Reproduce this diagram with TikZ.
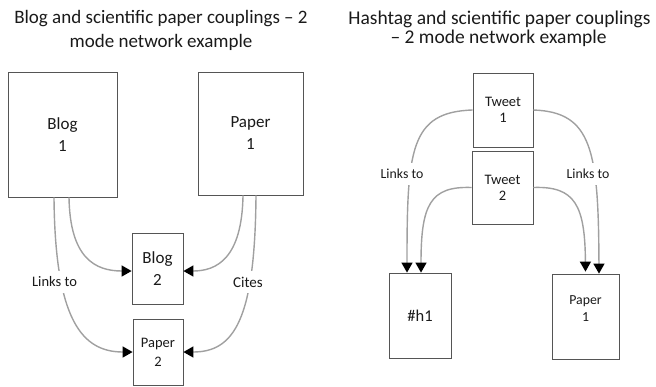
\documentclass[tikz,border=0pt]{standalone}
\usepackage{fontspec}
\setmainfont{Carlito}
\usetikzlibrary{arrows.meta,calc}
\definecolor{boxline}{HTML}{555555}
\definecolor{linkline}{HTML}{A0A0A0}
\definecolor{ink}{HTML}{1A1A1A}
\tikzset{
  card/.style={draw=boxline,line width=0.8pt,fill=white,text=ink,align=center,inner sep=0pt},
  conn/.style={draw=linkline,line width=1.4pt,-{Triangle[width=11pt,length=10pt,color=black]}},
  tag/.style={fill=white,text=ink,inner sep=3pt,inner ysep=6pt},
  heading/.style={text=ink,align=center,font=\fontsize{19}{21}\selectfont}
}
\begin{document}
\begin{tikzpicture}[x=1pt,y=-1pt]
\useasboundingbox (0,0) rectangle (656,386);

% ---- left panel: blogs and papers ----
\node[heading] (tl1) at (161,19) {Blog and scientific paper couplings -- 2};
\node[heading] (tl2) at (161,42) {mode network example};

\node[card,minimum width=109pt,minimum height=125pt,font=\fontsize{17}{22}\selectfont] (b1) at (62.5,134.5) {Blog\\1};
\node[card,minimum width=105pt,minimum height=123pt,font=\fontsize{17}{22}\selectfont] (p1) at (250.5,133.5) {Paper\\1};
\node[card,minimum width=51pt,minimum height=71pt,font=\fontsize{17}{22}\selectfont] (b2) at (157.5,268.5) {Blog\\2};
\node[card,minimum width=50pt,minimum height=66pt,font=\fontsize{14.5}{19}\selectfont] (p2) at (158,352) {Paper\\2};

\draw[conn] ($(b1.south)+(6.5,0)$) .. controls (70,258) and (95,271) .. ($(b2.west)+(0,2.5)$);
\draw[conn] ($(b1.south)+(-8.5,0)$) .. controls (55,320) and (82,352) .. ($(p2.west)+(0,0)$);
\draw[conn] ($(p1.south)+(-7.5,0)$) .. controls (242,258) and (217,271) .. ($(b2.east)+(0,2.5)$);
\draw[conn] ($(p1.south)+(5.5,0)$) .. controls (255,320) and (234,352) .. ($(p2.east)+(0,0)$);

\node[tag,font=\fontsize{14.5}{17}\selectfont] (lk1) at (54.5,282) {Links to};
\node[tag,font=\fontsize{15}{17}\selectfont] (ct1) at (248,282) {Cites};

% ---- right panel: tweets, hashtag and paper ----
\node[heading,font=\fontsize{19.5}{21}\selectfont] (tr1) at (499.5,19.5) {Hashtag and scientific paper couplings};
\node[heading,font=\fontsize{19.5}{21}\selectfont] (tr2) at (498.5,38.5) {-- 2 mode network example};

\node[card,minimum width=60pt,minimum height=74pt,font=\fontsize{14.5}{15.5}\selectfont] (t1) at (503,110) {Tweet\\1};
\node[card,minimum width=61pt,minimum height=73pt,font=\fontsize{14.5}{16}\selectfont] (t2) at (502.5,187.5) {Tweet\\2};
\node[card,minimum width=62pt,minimum height=85pt,font=\fontsize{16.5}{17}\selectfont] (h1) at (420,315.5) {\#h1};
\node[card,minimum width=67pt,minimum height=85pt] (pr) at (585.5,316.5) {};
\node[text=ink,align=center,font=\fontsize{13.8}{17}\selectfont] (prt) at (585.5,308.5) {Paper\\1};

\draw[conn] (t1.west) .. controls (410,112) and (407,150) .. ($(h1.north)+(-13,0)$);
\draw[conn] (t1.east) .. controls (592,112) and (598.5,150) .. ($(pr.north)+(13.5,0)$);
\draw[conn] (t2.west) .. controls (430,186) and (421,205) .. ($(h1.north)+(1,0)$);
\draw[conn] (t2.east) .. controls (575,186) and (585,205) .. ($(pr.north)+(0,-2)$);

\node[tag,font=\fontsize{13.8}{16}\selectfont] (lk2) at (402,174) {Links to};
\node[tag,font=\fontsize{13.8}{16}\selectfont] (lk3) at (588,174) {Links to};
\end{tikzpicture}
\end{document}
